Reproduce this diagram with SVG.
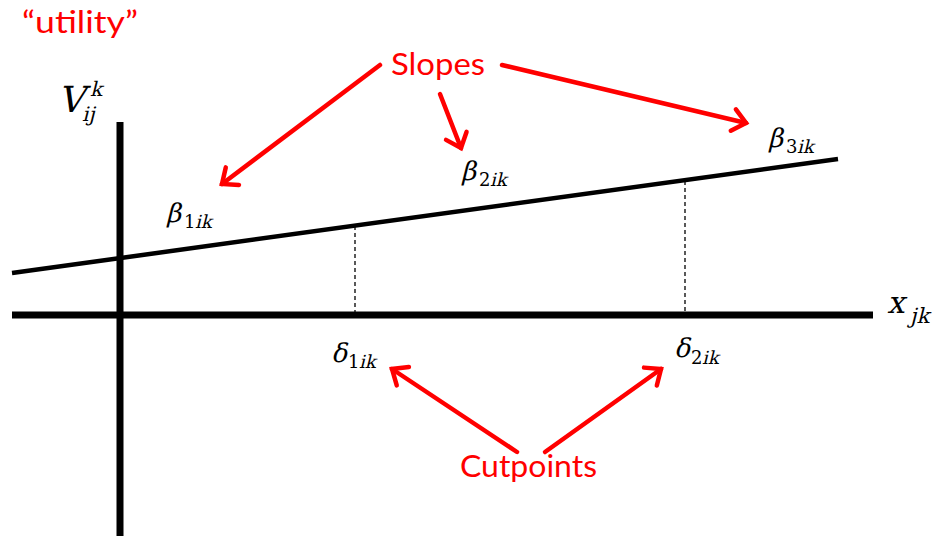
<svg xmlns="http://www.w3.org/2000/svg" width="948" height="536" viewBox="0 0 948 536">
<defs>
<marker id="chev" markerUnits="userSpaceOnUse" viewBox="-20 -15 24 30" refX="0" refY="0" markerWidth="24" markerHeight="30" orient="auto">
<path d="M-13,-11 L0,0 L-13,11" stroke="#ff0000" stroke-width="4.5" fill="none" stroke-linecap="round"/>
</marker>
</defs>
<style>
.arr{stroke:#ff0000;stroke-width:4.5;fill:none;stroke-linecap:round;marker-end:url(#chev);}
.ax{stroke:#000;stroke-width:7;fill:none;}
.dash{stroke:#000;stroke-width:1.3;stroke-dasharray:4 3;fill:none;}
</style>
<rect width="948" height="536" fill="#fff"/>
<g id="axes">
<line class="ax" x1="12" y1="315" x2="873" y2="315"/>
<line class="ax" x1="120" y1="122" x2="120" y2="536"/>
<line x1="12" y1="273" x2="838" y2="159" stroke="#000" stroke-width="4.5"/>
<line class="dash" x1="355" y1="226" x2="355" y2="312"/>
<line class="dash" x1="685" y1="181" x2="685" y2="312"/>
</g>
<g font-family="Lato, 'Open Sans', sans-serif" fill="#ff0000" font-size="31">
<g id="utility"><text x="22" y="33" textLength="116" lengthAdjust="spacingAndGlyphs">“utility”</text></g>
<g id="slopes"><text x="391" y="75" textLength="94" lengthAdjust="spacingAndGlyphs">Slopes</text></g>
<g id="cutpoints"><text x="460" y="477" textLength="137" lengthAdjust="spacingAndGlyphs">Cutpoints</text></g>
</g>
<g font-family="'DejaVu Serif', serif" fill="#000">
<g id="V-label"><text transform="translate(58 112) skewX(-14)" font-size="36">V</text><text transform="translate(90 96) skewX(-14)" font-size="20">k</text><text transform="translate(82 121) skewX(-14)" font-size="20">ij</text></g>
<g id="x-label"><text transform="translate(887 313) skewX(-14)" font-size="31">x</text><text transform="translate(910 323) skewX(-14)" font-size="21">jk</text></g>
<g id="beta1"><text transform="translate(166 222) skewX(-14)" font-size="26">β</text><text x="184" y="228" font-size="18">1</text><text transform="translate(195 228) skewX(-14)" font-size="18">ik</text></g>
<g id="beta2"><text transform="translate(461 180) skewX(-14)" font-size="26">β</text><text x="479" y="186" font-size="18">2</text><text transform="translate(490 186) skewX(-14)" font-size="18">ik</text></g>
<g id="beta3"><text transform="translate(768 147) skewX(-14)" font-size="26">β</text><text x="786" y="153" font-size="18">3</text><text transform="translate(797 153) skewX(-14)" font-size="18">ik</text></g>
<g id="delta1"><text transform="translate(331 362) skewX(-14)" font-size="26">δ</text><text x="348" y="368" font-size="18">1</text><text transform="translate(359 368) skewX(-14)" font-size="18">ik</text></g>
<g id="delta2"><text transform="translate(674 357) skewX(-14)" font-size="26">δ</text><text x="691" y="364" font-size="18">2</text><text transform="translate(702 364) skewX(-14)" font-size="18">ik</text></g>
</g>
<g id="connectors">
<line class="arr" x1="380" y1="65" x2="222" y2="184"/>
<line class="arr" x1="440" y1="94" x2="461" y2="148"/>
<line class="arr" x1="502" y1="65" x2="746" y2="123"/>
<line class="arr" x1="517" y1="452" x2="392" y2="369"/>
<line class="arr" x1="545" y1="452" x2="661" y2="369"/>
</g>
</svg>
